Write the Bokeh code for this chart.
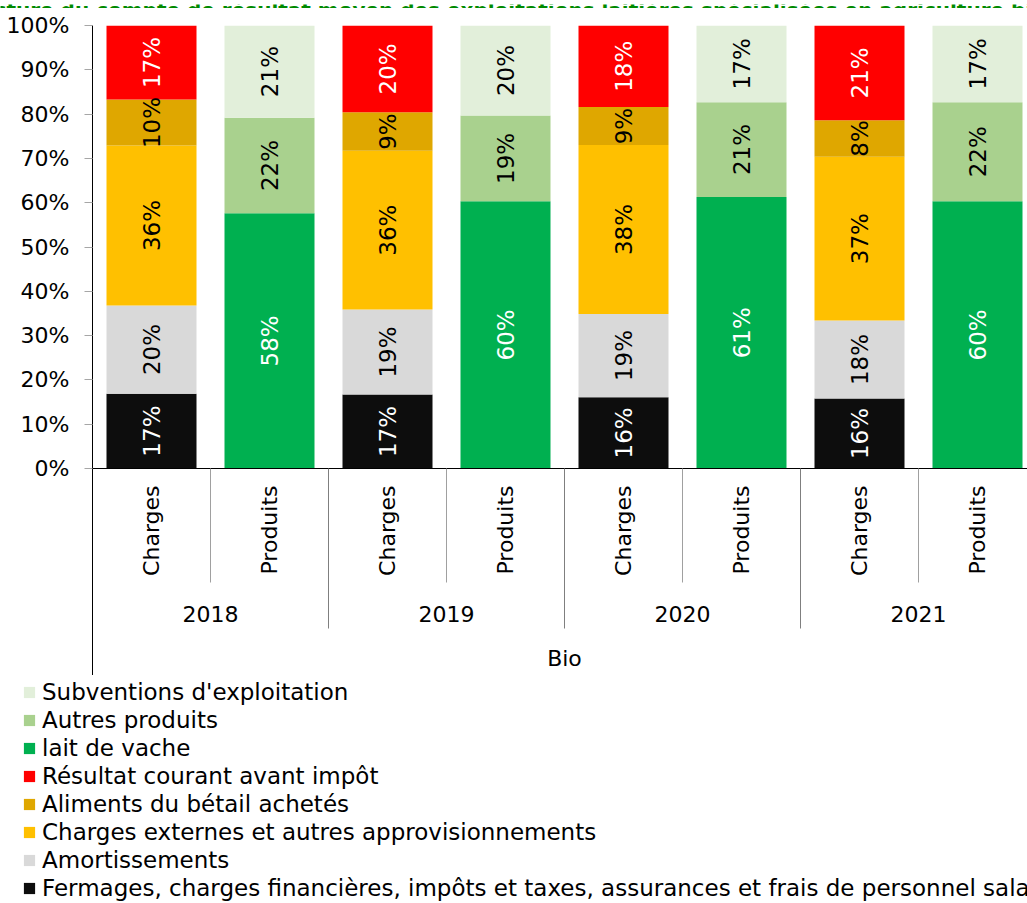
import math
from bokeh.plotting import figure
from bokeh.models import (ColumnDataSource, Range1d, LinearAxis, FixedTicker,
                          PrintfTickFormatter, Legend, LegendItem, Label)
from bokeh.core.properties import value
from bokeh.embed import file_html
from bokeh.resources import INLINE

# ---------------- data ----------------
title = ("Structure du compte de résultat moyen des exploitations laitières "
         "spécialisées en agriculture biologique")
group_label = "Bio"
years = ["2018", "2019", "2020", "2021"]
sides = ["Charges", "Produits"]
y_ticks = [0, 10, 20, 30, 40, 50, 60, 70, 80, 90, 100]

# Charges (stacked bottom -> top), % of total
fermages = [16.9, 16.7, 16.1, 15.8]
amortissements = [19.9, 19.2, 18.8, 17.6]
charges_externes = [36.1, 35.8, 38.1, 37.0]
aliments = [10.4, 8.7, 8.6, 8.2]
resultat = [16.7, 19.6, 18.4, 21.4]

# Produits (stacked bottom -> top), % of total
lait = [57.6, 60.3, 61.3, 60.3]
autres_produits = [21.6, 19.4, 21.4, 22.4]
subventions = [20.8, 20.3, 17.3, 17.3]

names = {
    "fermages": "Fermages, charges financières, impôts et taxes, assurances et frais de personnel salarié",
    "amortissements": "Amortissements",
    "charges_externes": "Charges externes et autres approvisionnements",
    "aliments": "Aliments du bétail achetés",
    "resultat": "Résultat courant avant impôt",
    "lait": "lait de vache",
    "autres_produits": "Autres produits",
    "subventions": "Subventions d'exploitation",
}
legend_order = ["subventions", "autres_produits", "lait", "resultat", "aliments",
                "charges_externes", "amortissements", "fermages"]

# ---------------- style ----------------
FONT = "DejaVu Sans"
colors = {
    "fermages": "#0d0d0d", "amortissements": "#d9d9d9", "charges_externes": "#ffc000",
    "aliments": "#dfa700", "resultat": "#ff0000", "lait": "#00b050",
    "autres_produits": "#a9d18e", "subventions": "#e2efda",
}
text_colors = {
    "fermages": "white", "amortissements": "black", "charges_externes": "black",
    "aliments": "black", "resultat": "white", "lait": "white",
    "autres_produits": "black", "subventions": "black",
}

W = 1027
H0, H1, H2 = 8, 667, 228
LEFT, TOP = 92, 17
frame_w = W - LEFT
frame_h = H1 - TOP
cat_px = 118.0
unit_px = 4.43
x_end = frame_w / cat_px
y_start = 100 - frame_h / unit_px


def blank(height, xr=(0, 1), yr=(0, 1)):
    return figure(width=W, height=height, output_backend="svg", toolbar_location=None,
                  x_range=Range1d(*xr), y_range=Range1d(*yr), x_axis_type=None, y_axis_type=None,
                  min_border_left=0, min_border_top=0, min_border_right=0, min_border_bottom=0,
                  outline_line_color=None, background_fill_color="white",
                  border_fill_color="white")


# ---------------- title strip (cut off at top as in the original) ----------------
t = blank(H0)
t.add_layout(Label(x=-54, y=3, x_units="screen", y_units="screen", text=title,
                   text_font=FONT, text_font_size="20px", text_font_style="bold",
                   text_color="#008a00", text_baseline="alphabetic"))

# ---------------- chart ----------------
p = figure(width=W, height=H1, output_backend="svg", toolbar_location=None,
           x_range=Range1d(0, x_end), y_range=Range1d(y_start, 100),
           x_axis_type=None, y_axis_type=None,
           min_border_left=LEFT, min_border_top=TOP, min_border_right=0,
           min_border_bottom=0,
           outline_line_color=None, background_fill_color="white", border_fill_color="white")

yaxis = LinearAxis(ticker=FixedTicker(ticks=y_ticks), formatter=PrintfTickFormatter(format="%d%%"),
                   axis_line_color="black", axis_line_width=1,
                   major_tick_in=0, major_tick_out=8, major_tick_line_color="#a6a6a6",
                   minor_tick_line_color=None, major_label_text_font=FONT,
                   major_label_text_font_size="22px", major_label_text_color="black",
                   major_label_standoff=15)
p.add_layout(yaxis, "left")

n_cat = len(years) * len(sides)
charges_x = [i * len(sides) + 0.5 for i in range(len(years))]
produits_x = [i * len(sides) + 1.5 for i in range(len(years))]
bar_w = 90 / cat_px

sources = {}
all_x, all_y, all_t, all_c = [], [], [], []


def add_stack(xs, keys, series):
    bottoms = [0.0] * len(xs)
    for key, vals in zip(keys, series):
        tops = [b + v for b, v in zip(bottoms, vals)]
        src = ColumnDataSource(dict(x=xs, bottom=bottoms, top=tops))
        sources[key] = src
        p.vbar(x="x", width=bar_w, bottom="bottom", top="top", source=src,
               fill_color=colors[key], line_color=None)
        for x, b, tp, v in zip(xs, bottoms, tops, vals):
            all_x.append(x)
            all_y.append((b + tp) / 2)
            all_t.append(f"{v:.0f}%")
            all_c.append(text_colors[key])
        bottoms = tops


add_stack(charges_x, ["fermages", "amortissements", "charges_externes", "aliments", "resultat"],
          [fermages, amortissements, charges_externes, aliments, resultat])
add_stack(produits_x, ["lait", "autres_produits", "subventions"],
          [lait, autres_produits, subventions])

p.text(x="x", y="y", text="t", text_color="c",
       source=ColumnDataSource(dict(x=all_x, y=all_y, t=all_t, c=all_c)),
       angle=math.pi / 2, text_align="center", text_baseline="middle",
       text_font=value(FONT), text_font_size="23px")

# horizontal axis line and category separators
p.segment(x0=[0], y0=[0], x1=[n_cat], y1=[0], line_color="black", line_width=1)
inner_x = [i * len(sides) + 1 for i in range(len(years))]
year_x = [(i + 1) * len(sides) for i in range(len(years))]
p.segment(x0=inner_x, y0=[0] * len(inner_x), x1=inner_x, y1=[-114 / unit_px] * len(inner_x),
          line_color="#a0a0a0", line_width=1)
p.segment(x0=year_x, y0=[0] * len(year_x), x1=year_x, y1=[-160 / unit_px] * len(year_x),
          line_color="#7f7f7f", line_width=1)

# category labels
cat_x = [i + 0.5 for i in range(n_cat)]
cat_t = [sides[i % len(sides)] for i in range(n_cat)]
p.text(x=cat_x, y=[-17 / unit_px] * n_cat, text=cat_t, angle=math.pi / 2,
       text_align="right", text_baseline="middle", text_color="black",
       text_font=value(FONT), text_font_size="22px")
yr_x = [i * len(sides) + len(sides) / 2 for i in range(len(years))]
p.text(x=yr_x, y=[-145 / unit_px] * len(years), text=years, text_align="center",
       text_baseline="middle", text_color="black", text_font=value(FONT), text_font_size="22px")
p.text(x=[n_cat / 2], y=[-190 / unit_px], text=[group_label], text_align="center",
       text_baseline="middle", text_color="black", text_font=value(FONT), text_font_size="22px")

# ---------------- legend strip ----------------
# the legend renderers reuse the bar sources, but this strip's ranges keep them out of view
q = blank(H2, xr=(-100, -99), yr=(-200, -199))
items = []
for k in legend_order:
    r = q.vbar(x="x", width=bar_w, bottom="bottom", top="top", source=sources[k],
               fill_color=colors[k], line_color=None)
    items.append(LegendItem(label=names[k], renderers=[r]))
legend = Legend(items=items, location=(22, 1.5), orientation="vertical",
                glyph_width=14, glyph_height=14, label_standoff=6, label_text_font=FONT,
                label_text_font_size="23px", label_text_color="black", label_height=27,
                spacing=1, padding=0, margin=0, background_fill_alpha=0,
                border_line_color=None)
q.add_layout(legend)

# three independent roots stacked on the page (no frame alignment between them)
open("out.html", "w").write(file_html([t, p, q], INLINE))
